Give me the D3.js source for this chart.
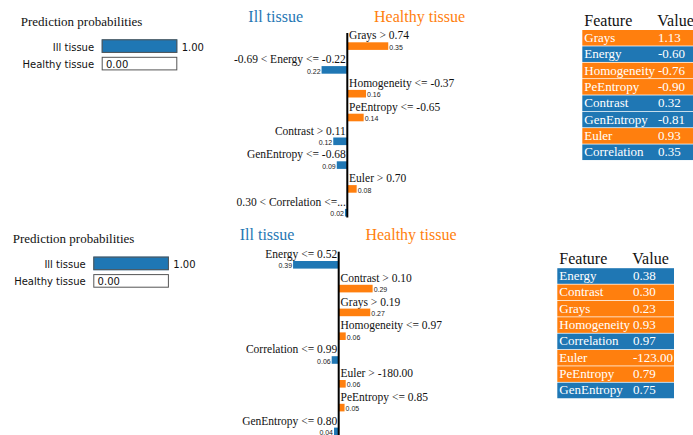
<!DOCTYPE html>
<html>
<head>
<meta charset="utf-8">
<script src="https://cdn.jsdelivr.net/npm/d3@7"></script>
<style>
  html, body { margin: 0; padding: 0; background: #fff; }
  svg { display: block; }
</style>
</head>
<body>
<svg id="chart" width="693" height="435"></svg>
<script>
// Class names and their colours
const classNames = ["Ill tissue", "Healthy tissue"];
const classColors = ["#1f77b4", "#ff7f0e"];

// Sample 1
const probs1 = [1.00, 0.00];
const conditions1 = ["Grays > 0.74", "-0.69 < Energy <= -0.22", "Homogeneity <= -0.37", "PeEntropy <= -0.65",
                     "Contrast > 0.11", "GenEntropy <= -0.68", "Euler > 0.70", "0.30 < Correlation <=..."];
const weights1 = [0.35, -0.22, 0.16, 0.14, -0.12, -0.09, 0.08, -0.02];
const features1 = ["Grays", "Energy", "Homogeneity", "PeEntropy", "Contrast", "GenEntropy", "Euler", "Correlation"];
const featureValues1 = [1.13, -0.60, -0.76, -0.90, 0.32, -0.81, 0.93, 0.35];

// Sample 2
const probs2 = [1.00, 0.00];
const conditions2 = ["Energy <= 0.52", "Contrast > 0.10", "Grays > 0.19", "Homogeneity <= 0.97",
                     "Correlation <= 0.99", "Euler > -180.00", "PeEntropy <= 0.85", "GenEntropy <= 0.80"];
const weights2 = [-0.39, 0.29, 0.27, 0.06, -0.06, 0.06, 0.05, -0.04];
const features2 = ["Energy", "Contrast", "Grays", "Homogeneity", "Correlation", "Euler", "PeEntropy", "GenEntropy"];
const featureValues2 = [0.38, 0.30, 0.23, 0.93, 0.97, -123.00, 0.79, 0.75];

const svg = d3.select("#chart");
const SERIF = "'Liberation Serif', 'Times New Roman', serif";
const SANS = "'DejaVu Sans', Verdana, sans-serif";

// Prediction probabilities block
function drawProba(probs, x0, y0, barX) {
  const g = svg.append("g");
  const px = d3.scaleLinear().domain([0, 1]).range([0, 75.6]);
  const rowY = d3.scaleLinear().domain([0, 1]).range([y0 + 13.3, y0 + 30.8]);
  const h = 13.6;

  g.append("text").attr("x", x0).attr("y", y0)
    .attr("font-family", SERIF).attr("font-size", 13).attr("fill", "#111")
    .text("Prediction probabilities");

  probs.forEach((p, i) => {
    const y = rowY(i);
    g.append("text").attr("x", barX - 7.6).attr("y", y + 11.3)
      .attr("text-anchor", "end").attr("font-family", SANS).attr("font-size", 10).attr("fill", "#111")
      .text(classNames[i]);
    g.append("rect").attr("x", barX).attr("y", y).attr("width", px(1)).attr("height", h)
      .attr("fill", "#fff");
    g.append("rect").attr("x", barX).attr("y", y).attr("width", px(p)).attr("height", h)
      .attr("fill", classColors[i]);
    g.append("rect").attr("x", barX + 0.5).attr("y", y + 0.5).attr("width", px(1) - 1).attr("height", h - 1)
      .attr("fill", "none").attr("stroke", "#555").attr("stroke-width", 1);
    const inside = p < 0.5;
    g.append("text")
      .attr("x", inside ? barX + 4.3 : barX + px(1) + 4.4)
      .attr("y", y + 11.3)
      .attr("font-family", SANS).attr("font-size", 10).attr("fill", "#111")
      .text(p.toFixed(2));
  });
}

// Feature weight explanation with the class titles and centre axis
function drawExplanation(conditions, weights, axisX, firstTop) {
  const g = svg.append("g");
  const xw = d3.scaleLinear().domain([0, 1]).range([0, 117]);
  const yRow = d3.scaleLinear().domain([0, 1]).range([firstTop, firstTop + 23.8]);
  const barH = 7.6;

  g.append("text").attr("x", axisX - 71.6).attr("y", firstTop - 20.6)
    .attr("text-anchor", "middle").attr("font-family", SERIF).attr("font-size", 16)
    .attr("fill", classColors[0]).text(classNames[0]);
  g.append("text").attr("x", axisX + 72.3).attr("y", firstTop - 20.6)
    .attr("text-anchor", "middle").attr("font-family", SERIF).attr("font-size", 16)
    .attr("fill", classColors[1]).text(classNames[1]);

  weights.forEach((w, i) => {
    const top = yRow(i);
    const pos = w > 0;
    const size = xw(Math.abs(w));
    g.append("text")
      .attr("x", pos ? axisX + 1.8 : axisX - 1.5)
      .attr("y", top - 3)
      .attr("text-anchor", pos ? "start" : "end")
      .attr("font-family", SERIF).attr("font-size", 11.5).attr("fill", "#111")
      .text(conditions[i]);
    g.append("rect")
      .attr("x", pos ? axisX : axisX - size)
      .attr("y", top).attr("width", size).attr("height", barH)
      .attr("fill", pos ? classColors[1] : classColors[0]);
    g.append("text")
      .attr("x", pos ? axisX + size + 1 : axisX - size - 1)
      .attr("y", top + barH - 0.2)
      .attr("text-anchor", pos ? "start" : "end")
      .attr("font-family", "'Liberation Sans', Arial, sans-serif").attr("font-size", 7).attr("fill", "#222")
      .text(Math.abs(w).toFixed(2));
  });

  g.append("line")
    .attr("x1", axisX).attr("x2", axisX)
    .attr("y1", firstTop - 9.3).attr("y2", yRow(weights.length - 1) + barH + 1)
    .attr("stroke", "#000").attr("stroke-width", 2);
}

// Feature / value table, rows coloured by the class each feature supports
function drawTable(features, values, weights, bgX, rowTop0) {
  const g = svg.append("g");
  const yRow = d3.scaleLinear().domain([0, 1]).range([rowTop0, rowTop0 + 16.35]);

  g.append("text").attr("x", bgX + 2).attr("y", rowTop0 - 4.5)
    .attr("font-family", SERIF).attr("font-size", 16).attr("fill", "#111").text("Feature");
  g.append("text").attr("x", bgX + 75).attr("y", rowTop0 - 4.5)
    .attr("font-family", SERIF).attr("font-size", 16).attr("fill", "#111").text("Value");

  features.forEach((f, i) => {
    const top = yRow(i);
    g.append("rect").attr("x", bgX).attr("y", top).attr("width", 116.7).attr("height", 15.6)
      .attr("fill", weights[i] > 0 ? classColors[1] : classColors[0]);
    g.append("text").attr("x", bgX + 2).attr("y", top + 11.8)
      .attr("font-family", SERIF).attr("font-size", 13).attr("fill", "#fff").text(f);
    g.append("text").attr("x", bgX + 75.7).attr("y", top + 11.8)
      .attr("font-family", SERIF).attr("font-size", 13).attr("fill", "#fff").text(values[i].toFixed(2));
  });
}

drawProba(probs1, 20.7, 26, 101.7);
drawExplanation(conditions1, weights1, 347.3, 42.3);
drawTable(features1, featureValues1, weights1, 582.3, 30);

drawProba(probs2, 12.7, 243.3, 93.3);
drawExplanation(conditions2, weights2, 338.7, 261);
drawTable(features2, featureValues2, weights2, 557.3, 268.2);
</script>
</body>
</html>
